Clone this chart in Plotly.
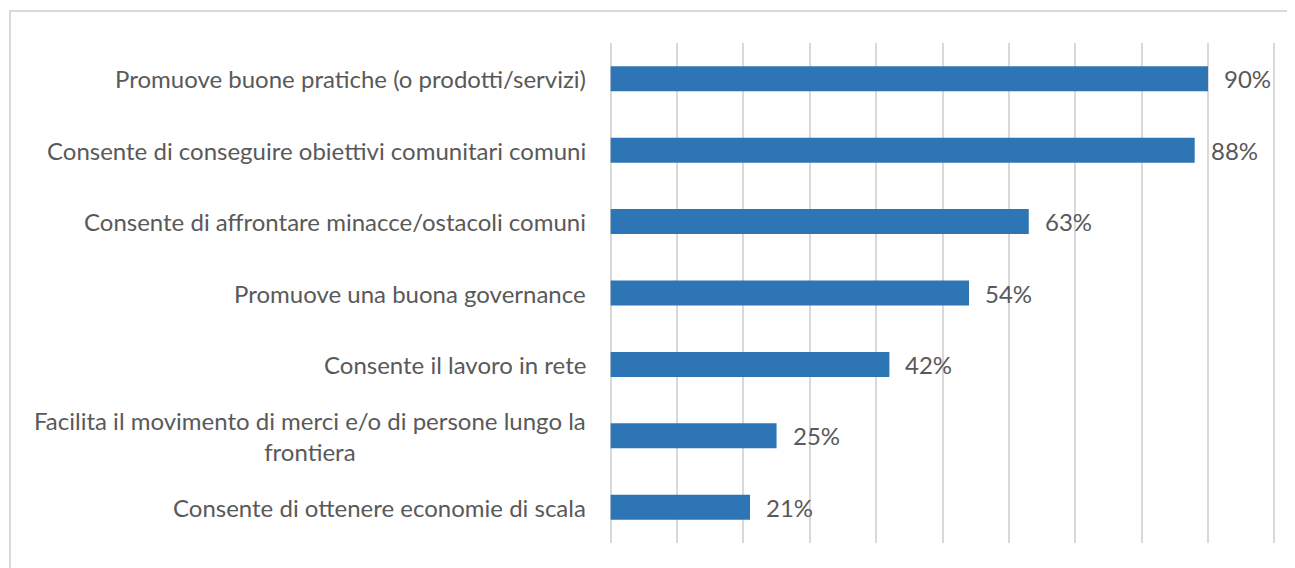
import plotly.graph_objects as go

categories = [
    "Promuove buone pratiche (o prodotti/servizi)",
    "Consente di conseguire obiettivi comunitari comuni",
    "Consente di affrontare minacce/ostacoli comuni",
    "Promuove una buona governance",
    "Consente il lavoro in rete",
    "Facilita il movimento di merci e/o di persone lungo la<br>frontiera",
    "Consente di ottenere economie di scala",
]
values = [90, 88, 63, 54, 42, 25, 21]
value_labels = ["90%", "88%", "63%", "54%", "42%", "25%", "21%"]

FONT = "Lato"
FS = 24
TXT = "#595959"
OFF = 8  # default page body margin
W, H = 1295 - OFF, 568 - OFF
L, R, T, B = 600, 18, 43 - OFF, 25

fig = go.Figure(go.Bar(
    x=values, y=categories, orientation="h",
    marker=dict(color="#2E75B6", line=dict(width=0)),
    width=0.35, hoverinfo="skip",
))

annotations = []
for c, v, lab in zip(categories, values, value_labels):
    annotations.append(dict(x=v, y=c, xref="x", yref="y", text=lab, showarrow=False,
                            xanchor="left", xshift=14, font=dict(family=FONT, size=FS, color=TXT)))
    annotations.append(dict(x=0, y=c, xref="x", yref="y", text=c, showarrow=False,
                            xanchor="right", xshift=-23, align="center",
                            font=dict(family=FONT, size=FS, color=TXT)))

pw = W - L - R
ph = H - T - B
fig.update_layout(
    width=W, height=H,
    margin=dict(l=L, r=R, t=T, b=B, pad=0),
    paper_bgcolor="white", plot_bgcolor="white",
    showlegend=False,
    xaxis=dict(range=[-0.4, 100.4], tickvals=list(range(0, 101, 10)), showgrid=True,
               gridcolor="#D9D9D9", gridwidth=2,
               showticklabels=False, zeroline=False, showline=False, ticks=""),
    yaxis=dict(autorange="reversed", showticklabels=False, showgrid=False, zeroline=False,
               showline=False, ticks=""),
    annotations=annotations,
    shapes=[dict(type="rect", xref="paper", yref="paper",
                 x0=(10 - OFF - L) / pw, x1=(1300 - OFF - L) / pw,
                 y0=-0.2, y1=(H - B - (11 - OFF)) / ph,
                 line=dict(color="#D9D9D9", width=2), layer="below")],
)

fig.write_html("out.html")
